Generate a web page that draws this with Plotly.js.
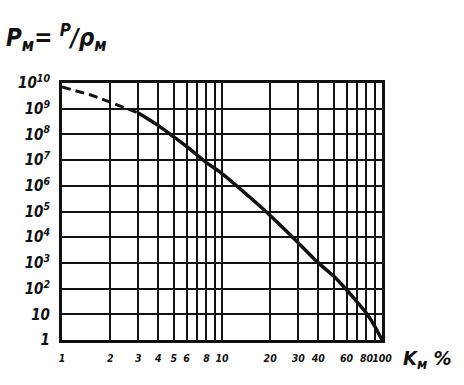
<!DOCTYPE html>
<html><head><meta charset="utf-8">
<script src="https://cdn.plot.ly/plotly-3.0.1.min.js"></script>
<style>body{margin:0;background:#fff}#c{width:464px;height:385px}</style>
</head><body><div id="c"></div>
<script>
// Data
const kDashed = [1, 1.5, 2, 2.5, 3];
const pDashed = [7e9, 3.5e9, 1.8e9, 1.05e9, 6.8e8];
const kSolid = [3, 4, 5, 6, 8, 10, 15, 20, 30, 40, 50, 60, 70, 80, 90, 100];
const pSolid = [6.8e8, 2.2e8, 8e7, 3.4e7, 8e6, 3e6, 3.5e5, 7e4, 6e3, 1e3, 300, 90, 30, 11, 3.5, 1];
const xTickVals = [1,2,3,4,5,6,7,8,9,10,20,30,40,50,60,70,80,90,100];
const xTickText = ['1','2','3','4','5','6','','8','','10','20','30','40','','60','','80','','100'];
const yTickVals = [1,10,1e2,1e3,1e4,1e5,1e6,1e7,1e8,1e9,1e10];
const yTickText = ['1','10','10<sup>2</sup>','10<sup>3</sup>','10<sup>4</sup>','10<sup>5</sup>','10<sup>6</sup>','10<sup>7</sup>','10<sup>8</sup>','10<sup>9</sup>','10<sup>10</sup>'];

const F = 'DejaVu Sans Condensed, DejaVu Sans, Liberation Sans, sans-serif';
const tfont = {family: F, size: 15, color: '#111', weight: 'bold', style: 'italic'};
const xfont = {family: F, size: 10.5, color: '#111', weight: 'bold', style: 'italic'};

const traces = [
  {x: kDashed, y: pDashed, mode: 'lines', line: {color: '#111', width: 3, dash: '9px,5px'}, hoverinfo: 'none'},
  {x: kSolid, y: pSolid, mode: 'lines', line: {color: '#111', width: 3.5, shape: 'spline'}, hoverinfo: 'none'}
];
const layout = {
  width: 464, height: 385,
  margin: {l: 62, r: 82, t: 83, b: 45},
  paper_bgcolor: '#fff', plot_bgcolor: '#fff',
  showlegend: false,
  xaxis: {type: 'log', range: [0, 2], tickvals: xTickVals, ticktext: xTickText, tickangle: 0,
    showgrid: true, gridcolor: '#111', gridwidth: 2, showline: true, linecolor: '#111', linewidth: 3,
    mirror: true, ticks: '', tickfont: xfont, zeroline: false, ticklabelstandoff: 6},
  yaxis: {type: 'log', range: [0, 10], tickvals: yTickVals, ticktext: yTickText,
    showgrid: true, gridcolor: '#111', gridwidth: 2, showline: true, linecolor: '#111', linewidth: 3,
    mirror: true, ticks: '', tickfont: tfont, zeroline: false, ticklabelstandoff: 6},
  annotations: [
    {xref: 'paper', yref: 'paper', x: -0.18, y: 1.1, xanchor: 'left', yanchor: 'bottom', showarrow: false,
     text: '<b><i>P<sub>м</sub>= <sup>P</sup>/ρ<sub>м</sub></i></b>', font: {family: F, size: 24, color: '#111'}},
    {xref: 'paper', yref: 'paper', x: 1.06, y: -0.015, xanchor: 'left', yanchor: 'top', showarrow: false,
     text: '<b><i>K<sub>м</sub> %</i></b>', font: {family: F, size: 20, color: '#111'}}
  ]
};
Plotly.newPlot('c', traces, layout, {staticPlot: true});
</script></body></html>
